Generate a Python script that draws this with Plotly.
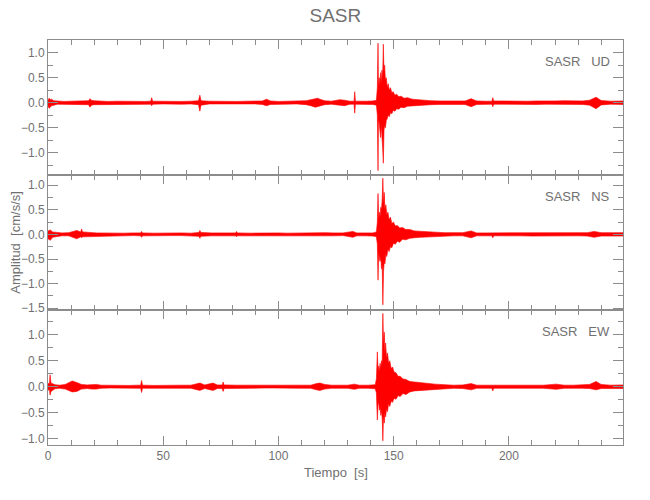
import plotly.graph_objects as go
from plotly.subplots import make_subplots

# ---------------- data: envelope (upper / lower) of each trace ----------------
station = "SASR"
components = ["UD", "NS", "EW"]

# ---- UD ----
t_ud = [0, 0.5, 1.0, 1.5, 2.5, 4, 7, 10, 14, 17,
        17.6, 18.2, 18.8, 20, 22, 26, 30, 34, 38, 42,
        44.6, 45, 45.4, 50, 54, 58, 62, 65.3, 65.9, 66.4,
        70, 74, 78, 82, 86, 90, 93, 94.8, 96.5, 100,
        104, 108, 112, 114, 116, 117, 118, 120, 123, 126.6,
        128.7, 131, 132.8, 133.1, 133.4, 135, 138, 141,
        142.5, 142.9, 143.2, 143.4, 143.7, 144.0, 144.3, 144.6, 144.9, 145.2,
        145.5, 145.8, 146.1, 146.4, 146.8, 147.2, 147.6, 148.1, 148.6, 149.2,
        149.8, 150.5, 151.3, 152.2, 153.2, 154.5, 156, 158, 160, 162.5,
        166, 170,
        174, 178, 181, 183.6, 186, 190, 192.6, 193, 193.4, 196,
        200, 204, 208, 212, 216, 220, 224, 228, 232, 235,
        237.8, 240, 244, 249.5]
hi_ud = [0.05, 0.09, 0.06, 0.07, 0.04, 0.03, 0.025, 0.03, 0.035, 0.05,
         0.04, 0.08, 0.05, 0.04, 0.03, 0.025, 0.03, 0.025, 0.03, 0.025,
         0.03, 0.1, 0.03, 0.025, 0.03, 0.025, 0.03, 0.04, 0.15, 0.04,
         0.03, 0.025, 0.03, 0.025, 0.03, 0.025, 0.035, 0.07, 0.035, 0.025,
         0.03, 0.025, 0.04, 0.06, 0.08, 0.09, 0.07, 0.04, 0.03, 0.06,
         0.05, 0.03, 0.03, 0.22, 0.03, 0.035, 0.03, 0.035,
         0.05, 0.3, 1.19, 0.3, 0.5, 0.35, 0.6, 0.4, 0.65, 0.5,
         1.17, 0.6, 0.75, 0.45, 0.5, 0.3, 0.38, 0.25, 0.3, 0.2,
         0.22, 0.15, 0.17, 0.12, 0.13, 0.09, 0.1, 0.07, 0.06, 0.05,
         0.04, 0.035,
         0.035, 0.03, 0.035, 0.08, 0.035, 0.03, 0.03, 0.1, 0.035, 0.035,
         0.03, 0.035, 0.03, 0.035, 0.03, 0.035, 0.04, 0.03, 0.035, 0.05,
         0.11, 0.045, 0.03, 0.035]
lo_ud = [-0.07, -0.11, -0.09, -0.06, -0.05, -0.03, -0.03, -0.025, -0.035, -0.04,
         -0.04, -0.09, -0.05, -0.04, -0.03, -0.025, -0.025, -0.03, -0.025, -0.03,
         -0.03, -0.06, -0.03, -0.025, -0.025, -0.03, -0.025, -0.04, -0.17, -0.05,
         -0.025, -0.03, -0.025, -0.025, -0.03, -0.025, -0.035, -0.06, -0.035, -0.03,
         -0.025, -0.025, -0.04, -0.06, -0.09, -0.08, -0.07, -0.04, -0.03, -0.05,
         -0.06, -0.03, -0.03, -0.21, -0.03, -0.035, -0.03, -0.035,
         -0.05, -0.25, -1.36, -0.35, -0.4, -0.5, -0.7, -0.45, -0.6, -0.9,
         -1.21, -0.55, -0.45, -0.5, -0.35, -0.32, -0.25, -0.28, -0.2, -0.22,
         -0.15, -0.17, -0.12, -0.13, -0.09, -0.1, -0.07, -0.07, -0.05, -0.05,
         -0.04, -0.035,
         -0.03, -0.035, -0.035, -0.08, -0.035, -0.03, -0.03, -0.08, -0.03, -0.03,
         -0.035, -0.03, -0.03, -0.035, -0.03, -0.035, -0.035, -0.03, -0.035, -0.05,
         -0.12, -0.045, -0.03, -0.035]

# ---- NS ----
t_ns = [0, 1, 2, 3.5, 6, 9, 11, 12.5, 14.2, 14.6,
        15, 16, 18, 21, 25, 29, 33, 37, 40.2, 40.6,
        41, 46, 50, 54, 58, 62, 65.5, 65.9, 66.3, 71,
        75, 78, 81.4, 81.8, 82.2, 88, 92, 96, 100, 104,
        108, 112, 116, 120, 124, 128, 132.3, 134, 138, 141,
        142.5, 142.9, 143.2, 143.5, 143.8, 144.1, 144.4, 144.7, 145.0, 145.3,
        145.6, 145.9, 146.2, 146.6, 147.0, 147.5, 148.0, 148.6, 149.2, 149.9,
        150.7, 151.6, 152.6, 153.8, 155.2, 157, 159, 161.5, 164, 168,
        172,
        176, 180, 183.6, 186, 190, 192.6, 193, 193.4, 196, 200,
        205, 210, 215, 220, 225, 230, 234, 237, 240, 245,
        249.5]
hi_ns = [0.07, 0.09, 0.05, 0.04, 0.03, 0.035, 0.06, 0.08, 0.05, 0.11,
         0.05, 0.05, 0.04, 0.03, 0.025, 0.03, 0.025, 0.03, 0.03, 0.06,
         0.03, 0.025, 0.03, 0.025, 0.03, 0.025, 0.04, 0.08, 0.04, 0.03,
         0.025, 0.03, 0.03, 0.06, 0.03, 0.025, 0.03, 0.025, 0.03, 0.025,
         0.03, 0.035, 0.03, 0.035, 0.03, 0.03, 0.06, 0.03, 0.03, 0.03,
         0.05, 0.25, 0.83, 0.3, 0.45, 0.35, 0.55, 0.5, 0.7, 1.14,
         0.6, 0.85, 0.5, 0.6, 0.4, 0.45, 0.3, 0.35, 0.22, 0.25,
         0.17, 0.18, 0.13, 0.14, 0.1, 0.1, 0.07, 0.06, 0.05, 0.045,
         0.035,
         0.03, 0.035, 0.07, 0.03, 0.03, 0.03, 0.04, 0.03, 0.03, 0.03,
         0.03, 0.035, 0.03, 0.03, 0.035, 0.03, 0.035, 0.06, 0.035, 0.035,
         0.035]
lo_ns = [-0.09, -0.12, -0.06, -0.04, -0.03, -0.03, -0.07, -0.09, -0.05, -0.07,
         -0.05, -0.05, -0.035, -0.03, -0.025, -0.025, -0.03, -0.025, -0.03, -0.06,
         -0.03, -0.025, -0.03, -0.025, -0.025, -0.03, -0.04, -0.08, -0.04, -0.03,
         -0.025, -0.03, -0.03, -0.05, -0.03, -0.025, -0.03, -0.025, -0.03, -0.025,
         -0.03, -0.035, -0.035, -0.03, -0.03, -0.025, -0.06, -0.03, -0.03, -0.035,
         -0.05, -0.2, -0.93, -0.35, -0.5, -0.55, -0.45, -0.7, -0.6, -1.43,
         -0.75, -0.55, -0.6, -0.4, -0.45, -0.3, -0.35, -0.25, -0.27, -0.18,
         -0.2, -0.14, -0.16, -0.1, -0.11, -0.08, -0.07, -0.06, -0.05, -0.04,
         -0.035,
         -0.03, -0.03, -0.07, -0.03, -0.03, -0.03, -0.07, -0.03, -0.03, -0.03,
         -0.03, -0.035, -0.03, -0.03, -0.035, -0.03, -0.035, -0.06, -0.035, -0.035,
         -0.035]

# ---- EW ----
t_ew = [0, 0.6, 0.9, 1.3, 3, 5, 7.5, 9, 10.5, 12.5,
        14.5, 17, 19, 21, 23, 27, 31, 35, 39, 40.2,
        40.6, 41, 46, 50, 54, 58, 62, 65.9, 68, 71.6,
        73.5, 75.6, 76, 76.4, 82, 86, 90, 94, 98, 102,
        106, 110, 114, 116.5, 118, 120, 123, 127, 130, 133,
        135, 139,
        142.0, 142.5, 142.9, 143.2, 143.5, 143.8, 144.1, 144.4, 144.7, 145.0,
        145.3, 145.6, 145.9, 146.2, 146.5, 146.9, 147.3, 147.8, 148.3, 148.9,
        149.5, 150.2, 151, 151.9, 152.8, 154, 155.3, 157, 159, 161.5,
        164, 168, 172,
        176, 180, 183.6, 186, 190, 192.6, 193, 193.4, 196, 200,
        205, 210, 215, 220.5, 224, 228, 232, 235, 237.8, 240,
        244, 249.5]
hi_ew = [0.07, 0.05, 0.23, 0.07, 0.04, 0.03, 0.045, 0.07, 0.11, 0.08,
         0.045, 0.035, 0.045, 0.045, 0.03, 0.025, 0.03, 0.025, 0.03, 0.03,
         0.12, 0.03, 0.025, 0.03, 0.025, 0.03, 0.03, 0.07, 0.035, 0.07,
         0.035, 0.035, 0.09, 0.035, 0.03, 0.03, 0.025, 0.03, 0.025, 0.03,
         0.025, 0.03, 0.03, 0.06, 0.07, 0.045, 0.03, 0.03, 0.03, 0.05,
         0.03, 0.03,
         0.04, 0.15, 0.67, 0.3, 0.4, 0.3, 0.45, 0.35, 0.5, 0.45,
         1.41, 0.8, 1.05, 0.65, 0.84, 0.55, 0.65, 0.45, 0.5, 0.35,
         0.38, 0.28, 0.27, 0.2, 0.2, 0.15, 0.14, 0.1, 0.09, 0.07,
         0.06, 0.05, 0.04,
         0.03, 0.035, 0.06, 0.03, 0.03, 0.03, 0.04, 0.03, 0.03, 0.03,
         0.035, 0.03, 0.03, 0.05, 0.03, 0.03, 0.035, 0.045, 0.1, 0.045,
         0.03, 0.035]
lo_ew = [-0.07, -0.05, -0.16, -0.09, -0.04, -0.03, -0.045, -0.07, -0.1, -0.09,
         -0.045, -0.035, -0.045, -0.045, -0.03, -0.025, -0.03, -0.025, -0.03, -0.03,
         -0.11, -0.03, -0.025, -0.03, -0.025, -0.03, -0.03, -0.07, -0.035, -0.07,
         -0.035, -0.035, -0.09, -0.035, -0.03, -0.025, -0.03, -0.025, -0.025, -0.03,
         -0.025, -0.03, -0.03, -0.06, -0.07, -0.045, -0.03, -0.03, -0.03, -0.05,
         -0.03, -0.03,
         -0.04, -0.12, -0.64, -0.35, -0.3, -0.45, -0.4, -0.55, -0.45, -0.6,
         -1.04, -0.55, -0.7, -0.5, -0.58, -0.42, -0.48, -0.32, -0.38, -0.28,
         -0.3, -0.22, -0.24, -0.17, -0.19, -0.13, -0.15, -0.1, -0.08, -0.07,
         -0.055, -0.045, -0.04,
         -0.03, -0.035, -0.06, -0.03, -0.03, -0.03, -0.08, -0.03, -0.03, -0.03,
         -0.035, -0.03, -0.03, -0.05, -0.03, -0.03, -0.03, -0.035, -0.06, -0.035,
         -0.03, -0.035]

y_ranges = [[-1.446, 1.254], [-1.535, 1.205], [-1.12, 1.475]]
x_range = [0, 249.5]

traces = [(t_ud, hi_ud, lo_ud), (t_ns, hi_ns, lo_ns), (t_ew, hi_ew, lo_ew)]
for t, hi, lo in traces:
    assert len(t) == len(hi) == len(lo), (len(t), len(hi), len(lo))

# ---------------- figure ----------------
TEXT = "#707070"
LINE = "#8c8c8c"
FONT = "Liberation Sans"

fig = make_subplots(rows=3, cols=1, shared_xaxes=True, vertical_spacing=0)

for i, (t, hi, lo) in enumerate(traces):
    xs = list(t) + list(t[::-1])
    ys = list(hi) + list(lo[::-1])
    fig.add_trace(go.Scatter(x=xs, y=ys, mode="lines", fill="toself",
                             fillcolor="#ff0000",
                             line=dict(color="#ff0000", width=0.6),
                             hoverinfo="skip", showlegend=False),
                  row=i + 1, col=1)

for i in range(3):
    fig.update_xaxes(row=i + 1, col=1, range=x_range, showline=True, linecolor=LINE,
                     linewidth=1, mirror="allticks", ticks="inside", ticklen=9,
                     tickcolor=LINE, tick0=0, dtick=50, showgrid=False, zeroline=False,
                     automargin=False,
                     minor=dict(ticks="inside", ticklen=5, dtick=10, tick0=0,
                                tickcolor=LINE, showgrid=False),
                     tickfont=dict(family=FONT, size=12, color=TEXT),
                     showticklabels=(i == 2))
    fig.update_yaxes(row=i + 1, col=1, range=y_ranges[i], showline=True, linecolor=LINE,
                     linewidth=1, mirror="allticks", ticks="inside", ticklen=10,
                     tickcolor=LINE, tick0=0, dtick=0.5, tickformat=".1f",
                     showgrid=False, zeroline=False, automargin=False,
                     minor=dict(ticks="inside", ticklen=5, dtick=0.25, tick0=0,
                                tickcolor=LINE, showgrid=False),
                     tickfont=dict(family=FONT, size=12, color=TEXT))
    fig.add_annotation(text=station + "\u00a0\u00a0\u00a0" + components[i],
                       xref="x domain" if i == 0 else f"x{i+1} domain",
                       yref="y domain" if i == 0 else f"y{i+1} domain",
                       x=0.98, y=0.842, xanchor="right", yanchor="middle",
                       showarrow=False, font=dict(family=FONT, size=13, color=TEXT))

fig.add_annotation(text="Tiempo\u00a0\u00a0[s]", xref="paper", yref="paper",
                   x=0.5, y=-0.045, xanchor="center", yanchor="top", showarrow=False,
                   font=dict(family=FONT, size=13, color=TEXT))
fig.add_annotation(text="Amplitud\u00a0\u00a0[cm/s/s]", xref="paper", yref="paper",
                   x=-0.057, y=0.5, xanchor="center", yanchor="middle", textangle=-90,
                   showarrow=False, font=dict(family=FONT, size=13, color=TEXT))

fig.update_layout(
    width=650, height=500,
    margin=dict(l=48, r=27, t=40, b=55, autoexpand=False),
    paper_bgcolor="white", plot_bgcolor="white",
    title=dict(text=station, x=0.516, xanchor="center", y=0.97, yanchor="middle",
               font=dict(family=FONT, size=19, color=TEXT)),
    showlegend=False,
)

fig.write_html("out.html", config={"displayModeBar": False},
               post_script="document.body.style.margin='0px';document.body.style.padding='0px';")
